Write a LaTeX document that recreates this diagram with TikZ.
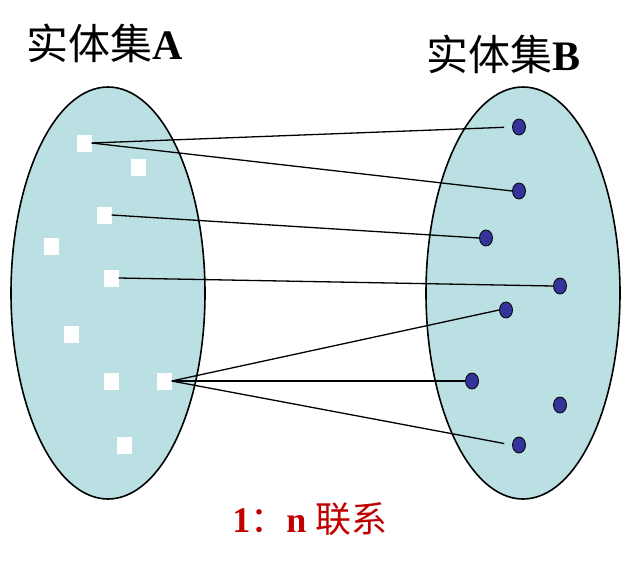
\documentclass[tikz,border=0pt]{standalone}
\usepackage{fontspec}
\setmainfont{Liberation Serif}
\newfontfamily\cjk{Noto Sans CJK SC}
\usetikzlibrary{shapes.geometric}

\definecolor{setfill}{RGB}{187,224,227}
\definecolor{dotblue}{RGB}{51,51,153}
\definecolor{labelred}{RGB}{192,0,0}

\tikzset{
  elem/.style={fill=white, minimum width=15pt, minimum height=17pt, inner sep=0pt},
  member/.style={ellipse, draw=black, line width=0.8pt, fill=dotblue,
    minimum width=13pt, minimum height=16pt, inner sep=0pt},
  link/.style={line width=1.3pt},
}

\begin{document}
\begin{tikzpicture}[x=1pt, y=-1pt]
    \useasboundingbox (0,0) rectangle (621,563);

    % Sets
    \draw[line width=1.6pt, fill=setfill] (108,293) ellipse [x radius=97, y radius=206];
    \draw[line width=1.6pt, fill=setfill] (523,293) ellipse [x radius=97, y radius=206];

    % Titles
    \node[anchor=west, inner sep=0pt] (titleA) at (26,43)
        {\fontsize{42}{42}\selectfont{\cjk 实体集}\textbf{A}};
    \node[anchor=west, inner sep=0pt] (titleB) at (426,54)
        {\fontsize{42}{42}\selectfont{\cjk 实体集}\textbf{B}};

    % Entities of A
    \node[elem] (a1) at (84,143) {};
    \node[elem] (a2) at (138,167) {};
    \node[elem] (a3) at (104,215) {};
    \node[elem] (a4) at (51,246) {};
    \node[elem] (a5) at (111,278) {};
    \node[elem] (a6) at (71,334) {};
    \node[elem] (a7) at (111,381) {};
    \node[elem] (a8) at (164,381) {};
    \node[elem] (a9) at (124,445) {};

    % Entities of B
    \node[member] (b1) at (519,127) {};
    \node[member] (b2) at (519,191) {};
    \node[member] (b3) at (486,238) {};
    \node[member] (b4) at (560,286) {};
    \node[member] (b5) at (506,310) {};
    \node[member] (b6) at (472,381) {};
    \node[member] (b7) at (560,405) {};
    \node[member] (b8) at (519,445) {};

    % Links
    \draw[link, shorten >=8pt] (a1.east) -- (b1.west);
    \draw[link] (a1.east) -- (b2.west);
    \draw[link] (a3.east) -- (b3.west);
    \draw[link] (a5.east) -- (b4.west);
    \draw[link] (a8.east) -- (b5.west);
    \draw[link] (a8.east) -- (b6.west);
    \draw[link, shorten >=8pt] (a8.east) -- (b8.west);

    % Caption
    \node[inner sep=0pt, text=labelred] (caption) at (310,519)
        {\fontsize{36}{36}\selectfont\textbf{1}{\cjk ：}\textbf{n} {\cjk 联系}};

\end{tikzpicture}
\end{document}
